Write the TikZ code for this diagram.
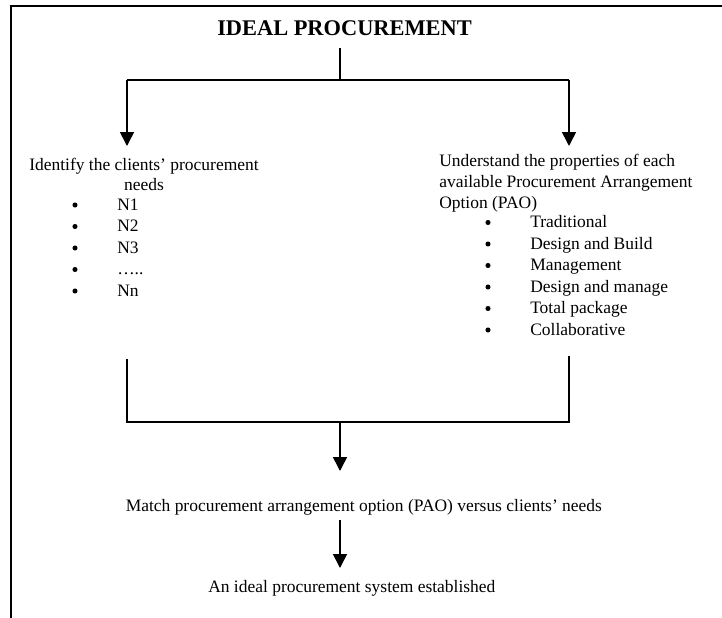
\documentclass[tikz,border=0pt]{standalone}
\usepackage{fontspec}
\setmainfont{Liberation Serif}
\usetikzlibrary{arrows.meta}

\begin{document}
\begin{tikzpicture}
		[x=0.75pt,y=-0.75pt,
		 ln/.style={line width=1.2pt},
		 arr/.style={ln,-{Triangle[width=10.5pt,length=10.5pt]}},
		 txt/.style={inner sep=0pt,anchor=base west,font=\fontsize{13.1}{15}\selectfont},
		 ttl/.style={txt,font=\fontsize{16.8}{20}\selectfont\bfseries},
		 dot/.style={circle,fill=black,inner sep=0pt,minimum size=3.8pt}]

		\useasboundingbox (0,0) rectangle (722,618);

		% frame (cut off at right and bottom)
		\draw[ln] (722,6) -- (11,6) -- (11,618);

		\node[ttl] (title) at (217,35) {IDEAL PROCUREMENT};

		\coordinate (tfoot) at (340,48);
		\coordinate (split) at (340,80);
		\coordinate (splitL) at (127,80);
		\coordinate (splitR) at (569,80);
		\coordinate (inL) at (127,146);
		\coordinate (inR) at (569,146);

		% left branch
		\node[txt] (needs1) at (29,170) {Identify the clients’ procurement};
		\node[txt,anchor=base] (needs2) at (144,190) {needs};
		\foreach \t [count=\i] in {N1,N2,N3,…..,Nn}
		{
			\node[dot] (lb\i) at (75,{205+21.5*(\i-1)}) {};
			\node[txt] (ln\i) at (117,{210+21.5*(\i-1)}) {\t};
		}

		% right branch
		\node[txt] (pao1) at (439,166) {Understand the properties of each};
		\node[txt] (pao2) at (439,187) {available Procurement Arrangement};
		\node[txt] (pao3) at (439,208) {Option (PAO)};
		\foreach \t [count=\i] in {Traditional,Design and Build,Management,Design and manage,Total package,Collaborative}
		{
			\node[dot] (rb\i) at (488,{222.5+21.5*(\i-1)}) {};
			\node[txt] (rn\i) at (530,{227.5+21.5*(\i-1)}) {\t};
		}

		\coordinate (outL) at (127,359);
		\coordinate (outR) at (569,356);
		\coordinate (join) at (340,422);
		\coordinate (inM) at (340,471);
		\coordinate (outM) at (340,520);
		\coordinate (inE) at (340,568);

		\node[txt] (match) at (125.5,511) {Match procurement arrangement option (PAO) versus clients’ needs};
		\node[txt] (ideal) at (208,592) {An ideal procurement system established};

		\draw[ln] (tfoot) -- (split);
		\draw[ln] (splitL) -- (splitR);
		\draw[arr] (splitL) -- (inL);
		\draw[arr] (splitR) -- (inR);
		\draw[ln] (outL) -- (outL |- join) -- (outR |- join) -- (outR);
		\draw[arr] (join) -- (inM);
		\draw[arr] (outM) -- (inE);

	\end{tikzpicture}
\end{document}
